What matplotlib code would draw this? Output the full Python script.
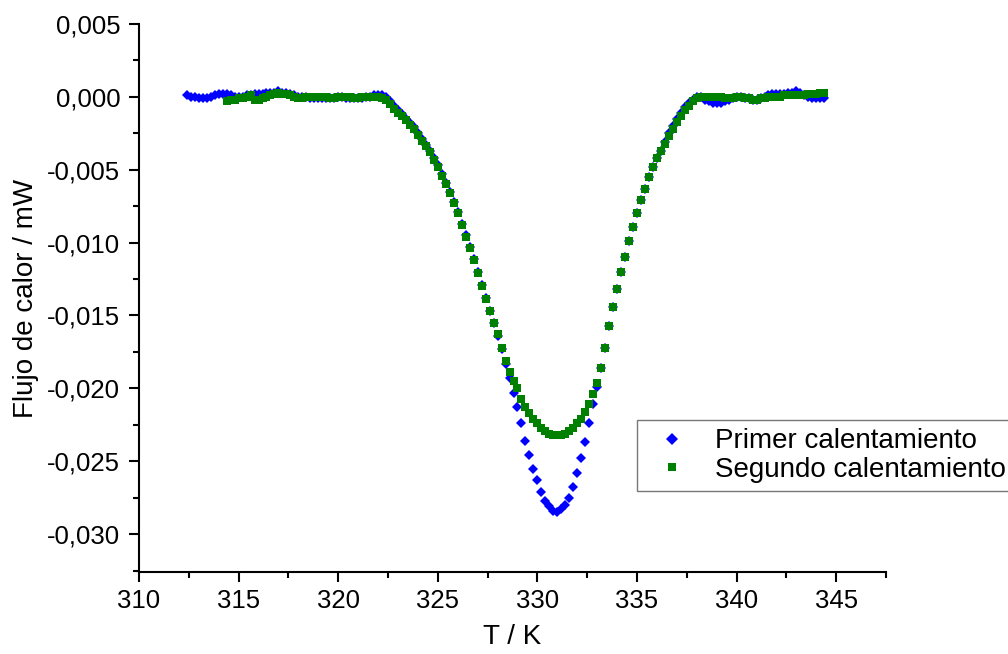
import matplotlib
matplotlib.use("Agg")
import matplotlib.pyplot as plt
from matplotlib.ticker import MultipleLocator, FuncFormatter

plt.rcParams['font.family'] = ['Liberation Sans', 'DejaVu Sans']

# temperature grid (K), shared by both runs
temp = [
    312.4, 312.6, 312.8, 313.0, 313.2, 313.4, 313.6, 313.8, 314.0, 314.2,
    314.4, 314.6, 314.8, 315.0, 315.2, 315.4, 315.6, 315.8, 316.0, 316.2,
    316.4, 316.6, 316.8, 317.0, 317.2, 317.4, 317.6, 317.8, 318.0, 318.2,
    318.4, 318.6, 318.8, 319.0, 319.2, 319.4, 319.6, 319.8, 320.0, 320.2,
    320.4, 320.6, 320.8, 321.0, 321.2, 321.4, 321.6, 321.8, 322.0, 322.2,
    322.4, 322.6, 322.8, 323.0, 323.2, 323.4, 323.6, 323.8, 324.0, 324.2,
    324.4, 324.6, 324.8, 325.0, 325.2, 325.4, 325.6, 325.8, 326.0, 326.2,
    326.4, 326.6, 326.8, 327.0, 327.2, 327.4, 327.6, 327.8, 328.0, 328.2,
    328.4, 328.6, 328.8, 329.0, 329.2, 329.4, 329.6, 329.8, 330.0, 330.2,
    330.4, 330.6, 330.8, 331.0, 331.2, 331.4, 331.6, 331.8, 332.0, 332.2,
    332.4, 332.6, 332.8, 333.0, 333.2, 333.4, 333.6, 333.8, 334.0, 334.2,
    334.4, 334.6, 334.8, 335.0, 335.2, 335.4, 335.6, 335.8, 336.0, 336.2,
    336.4, 336.6, 336.8, 337.0, 337.2, 337.4, 337.6, 337.8, 338.0, 338.2,
    338.4, 338.6, 338.8, 339.0, 339.2, 339.4, 339.6, 339.8, 340.0, 340.2,
    340.4, 340.6, 340.8, 341.0, 341.2, 341.4, 341.6, 341.8, 342.0, 342.2,
    342.4, 342.6, 342.8, 343.0, 343.2, 343.4, 343.6, 343.8, 344.0, 344.2,
    344.4,
]

# first heating, heat flow in mW (one value per temp point)
flujo_1 = [
    0.0001, 0.0000, 0.0000, -0.0001, -0.0001, -0.0001, 0.0000, 0.0001, 0.0002, 0.0002,
    0.0002, 0.0001, 0.0000, 0.0000, 0.0000, 0.0001, 0.0001, 0.0002, 0.0002, 0.0002,
    0.0003, 0.0003, 0.0003, 0.0004, 0.0003, 0.0003, 0.0002, 0.0001, 0.0000, 0.0000,
    0.0000, -0.0001, -0.0001, -0.0001, -0.0001, -0.0001, -0.0001, -0.0001, 0.0000, 0.0000,
    -0.0001, -0.0001, -0.0001, -0.0001, -0.0001, 0.0000, 0.0000, 0.0001, 0.0001, 0.0001,
    0.0000, -0.0003, -0.0006, -0.0009, -0.0012, -0.0015, -0.0018, -0.0021, -0.0025, -0.0029,
    -0.0033, -0.0037, -0.0042, -0.0047, -0.0053, -0.0059, -0.0065, -0.0072, -0.0079, -0.0087,
    -0.0095, -0.0103, -0.0111, -0.0120, -0.0129, -0.0138, -0.0147, -0.0155, -0.0164, -0.0173,
    -0.0183, -0.0193, -0.0203, -0.0213, -0.0224, -0.0236, -0.0246, -0.0255, -0.0263, -0.0271,
    -0.0277, -0.0281, -0.0284, -0.0285, -0.0283, -0.0280, -0.0275, -0.0268, -0.0258, -0.0248,
    -0.0237, -0.0224, -0.0211, -0.0199, -0.0186, -0.0172, -0.0157, -0.0144, -0.0132, -0.0120,
    -0.0110, -0.0099, -0.0089, -0.0080, -0.0071, -0.0063, -0.0055, -0.0048, -0.0042, -0.0037,
    -0.0031, -0.0025, -0.0020, -0.0015, -0.0011, -0.0007, -0.0004, -0.0002, 0.0000, 0.0000,
    -0.0002, -0.0003, -0.0004, -0.0004, -0.0004, -0.0003, -0.0002, -0.0001, 0.0000, 0.0000,
    -0.0001, -0.0001, -0.0002, -0.0002, -0.0001, 0.0000, 0.0001, 0.0002, 0.0002, 0.0002,
    0.0002, 0.0003, 0.0003, 0.0004, 0.0003, 0.0001, 0.0000, -0.0001, -0.0001, -0.0001,
    -0.0001,
]

# second heating starts later (from 314.4 K)
inicio_2 = 10
flujo_2 = [
    -0.0003, -0.0002, -0.0002, -0.0001, -0.0001, 0.0000, 0.0001, -0.0002, -0.0002, -0.0001,
    0.0000, 0.0001, 0.0002, 0.0003, 0.0002, 0.0002, 0.0001, 0.0000, -0.0001, -0.0001,
    0.0000, 0.0000, 0.0000, 0.0000, 0.0000, 0.0000, -0.0001, -0.0001, 0.0000, 0.0000,
    0.0000, 0.0000, -0.0001, -0.0001, 0.0000, 0.0000, 0.0000, 0.0000, 0.0000, -0.0001,
    -0.0002, -0.0005, -0.0008, -0.0011, -0.0013, -0.0016, -0.0019, -0.0022, -0.0026, -0.0030,
    -0.0034, -0.0038, -0.0043, -0.0048, -0.0054, -0.0060, -0.0066, -0.0073, -0.0080, -0.0088,
    -0.0096, -0.0104, -0.0112, -0.0121, -0.0130, -0.0139, -0.0147, -0.0155, -0.0163, -0.0172,
    -0.0181, -0.0189, -0.0195, -0.0200, -0.0207, -0.0213, -0.0217, -0.0221, -0.0224, -0.0227,
    -0.0229, -0.0231, -0.0232, -0.0232, -0.0232, -0.0231, -0.0229, -0.0227, -0.0224, -0.0221,
    -0.0216, -0.0211, -0.0204, -0.0196, -0.0186, -0.0172, -0.0157, -0.0144, -0.0132, -0.0120,
    -0.0110, -0.0099, -0.0089, -0.0080, -0.0071, -0.0063, -0.0055, -0.0048, -0.0042, -0.0037,
    -0.0032, -0.0027, -0.0022, -0.0017, -0.0013, -0.0009, -0.0006, -0.0003, -0.0001, 0.0000,
    0.0000, 0.0000, 0.0000, 0.0000, 0.0000, -0.0001, -0.0001, -0.0001, 0.0000, 0.0000,
    -0.0001, -0.0001, -0.0002, -0.0002, -0.0001, -0.0001, 0.0000, 0.0000, 0.0000, 0.0000,
    0.0001, 0.0001, 0.0001, 0.0001, 0.0001, 0.0001, 0.0002, 0.0002, 0.0002, 0.0003,
    0.0003,
]

etiquetas = ["Primer calentamiento", "Segundo calentamiento"]

fig = plt.figure(figsize=(10.08, 6.54), dpi=100)
ax = fig.add_axes([0.1379, 0.1254, 0.7411, 0.8379])

ax.plot(temp, flujo_1, linestyle="none", marker="D", markersize=5.4,
        color="#0000ff", markeredgewidth=0, label=etiquetas[0])
ax.plot(temp[inicio_2:], flujo_2, linestyle="none", marker="s", markersize=5.6,
        color="#008000", markeredgewidth=0, label=etiquetas[1])

ax.set_xlim(310, 347.5)
ax.set_ylim(-0.0326, 0.005)

ax.xaxis.set_major_locator(MultipleLocator(5))
ax.xaxis.set_minor_locator(MultipleLocator(2.5))
ax.yaxis.set_major_locator(MultipleLocator(0.005))
ax.yaxis.set_minor_locator(MultipleLocator(0.0025))
ax.yaxis.set_major_formatter(FuncFormatter(lambda v, p: f"{v:.3f}".replace(".", ",").replace("-0,000", "0,000")))

for s in ["top", "right"]:
    ax.spines[s].set_visible(False)
for s in ["left", "bottom"]:
    ax.spines[s].set_linewidth(1.5)

ax.tick_params(which="major", length=7.5, width=1.5, labelsize=18.5, direction="out")
ax.tick_params(which="minor", length=4, width=1.5, direction="out")
ax.tick_params(axis="x", pad=5)
ax.tick_params(axis="y", pad=6)

ax.set_xlabel("T / K", fontsize=20, labelpad=8)
ax.set_ylabel("Flujo de calor / mW", fontsize=20, labelpad=6)

leg = ax.legend(loc="upper left", bbox_to_anchor=(637 / 1008, 1 - 420 / 654),
                bbox_transform=fig.transFigure, fontsize=20, frameon=True,
                fancybox=False, edgecolor="#777777", framealpha=1,
                handlelength=1.9, handletextpad=0.6, borderpad=0.3,
                labelspacing=0.1, borderaxespad=0, markerscale=1.1)
leg.get_frame().set_linewidth(1.0)

fig.savefig("out.png", dpi=100)
